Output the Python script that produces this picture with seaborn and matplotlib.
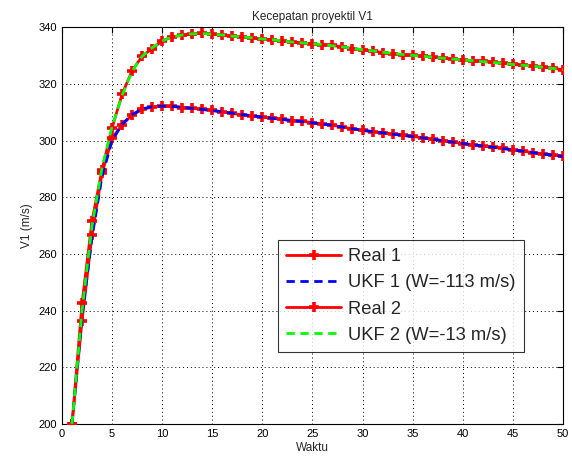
import numpy as np
import pandas as pd
import matplotlib
matplotlib.use("Agg")
import matplotlib.pyplot as plt
import seaborn as sns

waktu = list(range(1, 51))
real1 = [200, 236.5, 266.8, 288.5, 300.8, 305.7, 309.0, 311.0, 311.9, 312.1,
         312.1, 311.7, 311.4, 311.1, 310.7, 310.2, 309.6, 309.1, 308.7, 308.3,
         307.9, 307.5, 307.1, 306.8, 306.4, 305.9, 305.4, 304.8, 304.2, 303.6,
         303.2, 302.8, 302.3, 301.9, 301.5, 301.0, 300.5, 300.0, 299.5, 299.0,
         298.5, 298.1, 297.7, 297.3, 296.8, 296.3, 295.8, 295.3, 294.9, 294.5]
ukf1 = [200, 238.0, 266.0, 287.5, 300.0, 305.8, 309.2, 311.2, 312.0, 312.2,
        312.1, 311.8, 311.4, 311.0, 310.6, 310.2, 309.7, 309.2, 308.8, 308.3,
        307.9, 307.5, 307.1, 306.7, 306.3, 305.9, 305.4, 304.8, 304.2, 303.7,
        303.2, 302.8, 302.3, 301.9, 301.5, 301.0, 300.5, 300.0, 299.5, 299.0,
        298.6, 298.1, 297.7, 297.2, 296.8, 296.3, 295.8, 295.3, 294.9, 294.4]
real2 = [200, 242.6, 271.8, 289.8, 304.5, 316.4, 324.7, 329.8, 332.5, 335.2,
         336.6, 337.2, 337.6, 337.9, 337.6, 337.2, 336.8, 336.5, 336.3, 335.9,
         335.6, 335.1, 334.8, 334.5, 334.2, 333.9, 333.6, 333.1, 332.5, 332.1,
         331.7, 331.1, 330.7, 330.3, 330.1, 329.8, 329.5, 329.1, 328.8, 328.6,
         328.2, 328.0, 327.6, 327.3, 326.9, 326.6, 326.3, 325.9, 325.6, 325.0]
ukf2 = [200, 240.0, 270.0, 290.5, 305.0, 316.0, 324.5, 329.8, 332.8, 335.2,
        336.6, 337.3, 337.7, 337.8, 337.6, 337.3, 336.9, 336.6, 336.3, 335.9,
        335.6, 335.2, 334.8, 334.5, 334.2, 333.9, 333.5, 333.1, 332.6, 332.1,
        331.7, 331.2, 330.8, 330.4, 330.1, 329.8, 329.5, 329.1, 328.8, 328.5,
        328.2, 327.9, 327.6, 327.3, 326.9, 326.6, 326.3, 325.9, 325.5, 325.0]

labels = ["Real 1", "UKF 1 (W=-113 m/s)", "Real 2", "UKF 2 (W=-13 m/s)"]
colors = ["#ff0000", "#0000ff", "#ff0000", "#00ff00"]
xticks = list(range(0, 51, 5))
yticks = list(range(200, 341, 20))

sns.set_style("white")
plt.rcParams['font.family'] = ['Liberation Sans', 'DejaVu Sans']

fig = plt.figure(figsize=(5.72, 4.67), dpi=100)
ax = fig.add_axes([0.1084, 0.092, 0.8756, 0.8495])

handles = []
for i, (vals, lab, col) in enumerate(zip([real1, ukf1, real2, ukf2], labels, colors)):
    n_before = len(ax.lines)
    sns.lineplot(x=waktu, y=vals, ax=ax, color=col, legend=False)
    ln = ax.lines[n_before]
    ln.set_color(col)
    ln.set_linewidth(2)
    ln.set_label(lab)
    if i % 2 == 0:
        ln.set_linestyle("-")
        ln.set_marker("+")
        ln.set_markersize(7.5)
        ln.set_markeredgewidth(2.6)
        ln.set_markeredgecolor(col)
        ln.set_zorder(3)
    else:
        ln.set_linestyle((0, (3, 2)))
        ln.set_marker("None")
        ln.set_zorder(4)
    handles.append(ln)

ax.set_xlim(0, 50)
ax.set_ylim(200, 340)
ax.set_xticks(xticks)
ax.set_yticks(yticks)
ax.tick_params(direction="in", top=True, right=True, length=4, width=0.8,
               labelsize=8, colors="black")
ax.grid(True, linestyle=(0, (1, 3)), color="black", linewidth=0.7)
for s in ax.spines.values():
    s.set_color("black")
    s.set_linewidth(0.8)
ax.set_title("Kecepatan proyektil V1", fontsize=8.5, pad=5)
ax.set_xlabel("Waktu", fontsize=8.5, labelpad=2)
ax.set_ylabel("V1 (m/s)", fontsize=8.5, labelpad=4)

leg = ax.legend(handles=handles, labels=labels, loc="upper left",
                bbox_to_anchor=(0.431, 0.464), fontsize=13.2,
                frameon=True, fancybox=False, edgecolor="black",
                handlelength=3.0, borderpad=0.45, labelspacing=0.5,
                handletextpad=0.4, borderaxespad=0)
leg.get_frame().set_linewidth(0.8)
for h in leg.legend_handles:
    if h.get_marker() == "+":
        h.set_markersize(6.5)

fig.savefig("out.png", dpi=100)
